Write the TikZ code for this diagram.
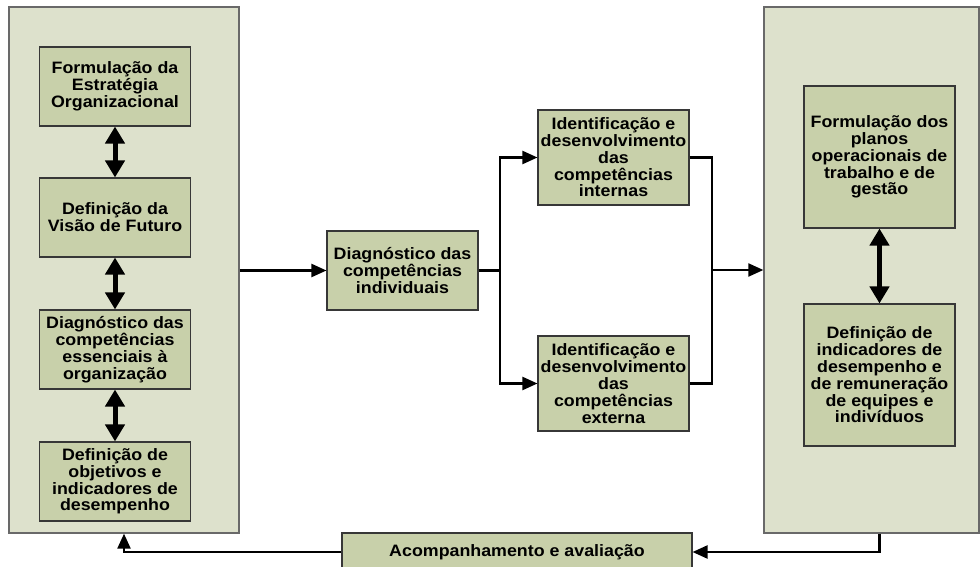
\documentclass[tikz,border=0pt]{standalone}
\usepackage{fontspec}
\newfontfamily\boxfont{Liberation Sans}[FakeStretch=1.08]
\usetikzlibrary{arrows.meta}
\definecolor{panelfill}{RGB}{221,225,204}
\definecolor{panelline}{RGB}{105,105,105}
\definecolor{boxfill}{RGB}{200,208,170}
\definecolor{boxline}{RGB}{55,55,55}
\tikzset{
  panel/.style={draw=panelline, line width=1.3pt, fill=panelfill, inner sep=0pt},
  stepbox/.style={draw=boxline, line width=1.1pt, fill=boxfill, align=center,
    inner sep=2pt, minimum width=151pt,
    font=\boxfont\bfseries\fontsize{16.5}{16.8}\selectfont},
  flow/.style={line width=2.2pt, -{Triangle[length=15pt,width=13pt]}},
  plain/.style={line width=2.2pt},
  twoway/.style={line width=5pt, {Triangle[length=17pt,width=19pt]}-{Triangle[length=17pt,width=19pt]}}
}
\begin{document}
\begin{tikzpicture}[x=1pt,y=-1pt]
\useasboundingbox (0,0) rectangle (980,567);

% side panels
\node[panel, minimum width=230pt, minimum height=526pt] (lp) at (124,270) {};
\node[panel, minimum width=215pt, minimum height=526pt] (rp) at (871.5,270) {};

% strategy column
\node[stepbox, minimum height=79pt] (f1) at (115,86.5) {Formulação da\\Estratégia\\Organizacional};
\node[stepbox, minimum height=79pt] (f2) at (115,217.5) {Definição da\\Visão de Futuro};
\node[stepbox, minimum height=79pt] (f3) at (115,349.5) {Diagnóstico das\\competências\\essenciais à\\organização};
\node[stepbox, minimum height=79pt] (f4) at (115,481.5) {Definição de\\objetivos e\\indicadores de\\desempenho};

% competences
\node[stepbox, minimum height=79pt] (mid) at (402.5,270.5) {Diagnóstico das\\competências\\individuais};
\node[stepbox, minimum height=95pt] (ia) at (613.5,157.5) {Identificação e\\desenvolvimento\\das\\competências\\internas};
\node[stepbox, minimum height=95pt] (ib) at (613.5,383.5) {Identificação e\\desenvolvimento\\das\\competências\\externa};

% operational column
\node[stepbox, minimum height=142pt] (r1) at (879.5,157) {Formulação dos\\planos\\operacionais de\\trabalho e de\\gestão};
\node[stepbox, minimum height=142pt] (r2) at (879.5,375) {Definição de\\indicadores de\\desempenho e\\de remuneração\\de equipes e\\indivíduos};

% follow-up
\node[stepbox, minimum width=350pt, minimum height=38pt] (ac) at (517,552) {Acompanhamento e avaliação};

% two-way links
\draw[twoway] (f1.south) -- (f2.north);
\draw[twoway] (f2.south) -- (f3.north);
\draw[twoway] (f3.south) -- (f4.north);
\draw[twoway] (r1.south) -- (r2.north);

% main flow
\coordinate (sp) at (500,270.5);
\coordinate (jn) at (712,270);
\draw[flow] (lp.east |- mid.west) -- (mid.west);
\draw[plain] (mid.east) -- (sp);
\draw[flow] (sp) |- (ia.west);
\draw[flow] (sp) |- (ib.west);
\draw[plain] (ia.east) -| (jn);
\draw[plain] (ib.east) -| (jn);
\draw[flow] (jn) -- (jn -| rp.west);

% feedback loop
\draw[flow] (r1.south |- rp.south) |- (ac.east);
\draw[flow] (ac.west) -| (lp.south);
\end{tikzpicture}
\end{document}
